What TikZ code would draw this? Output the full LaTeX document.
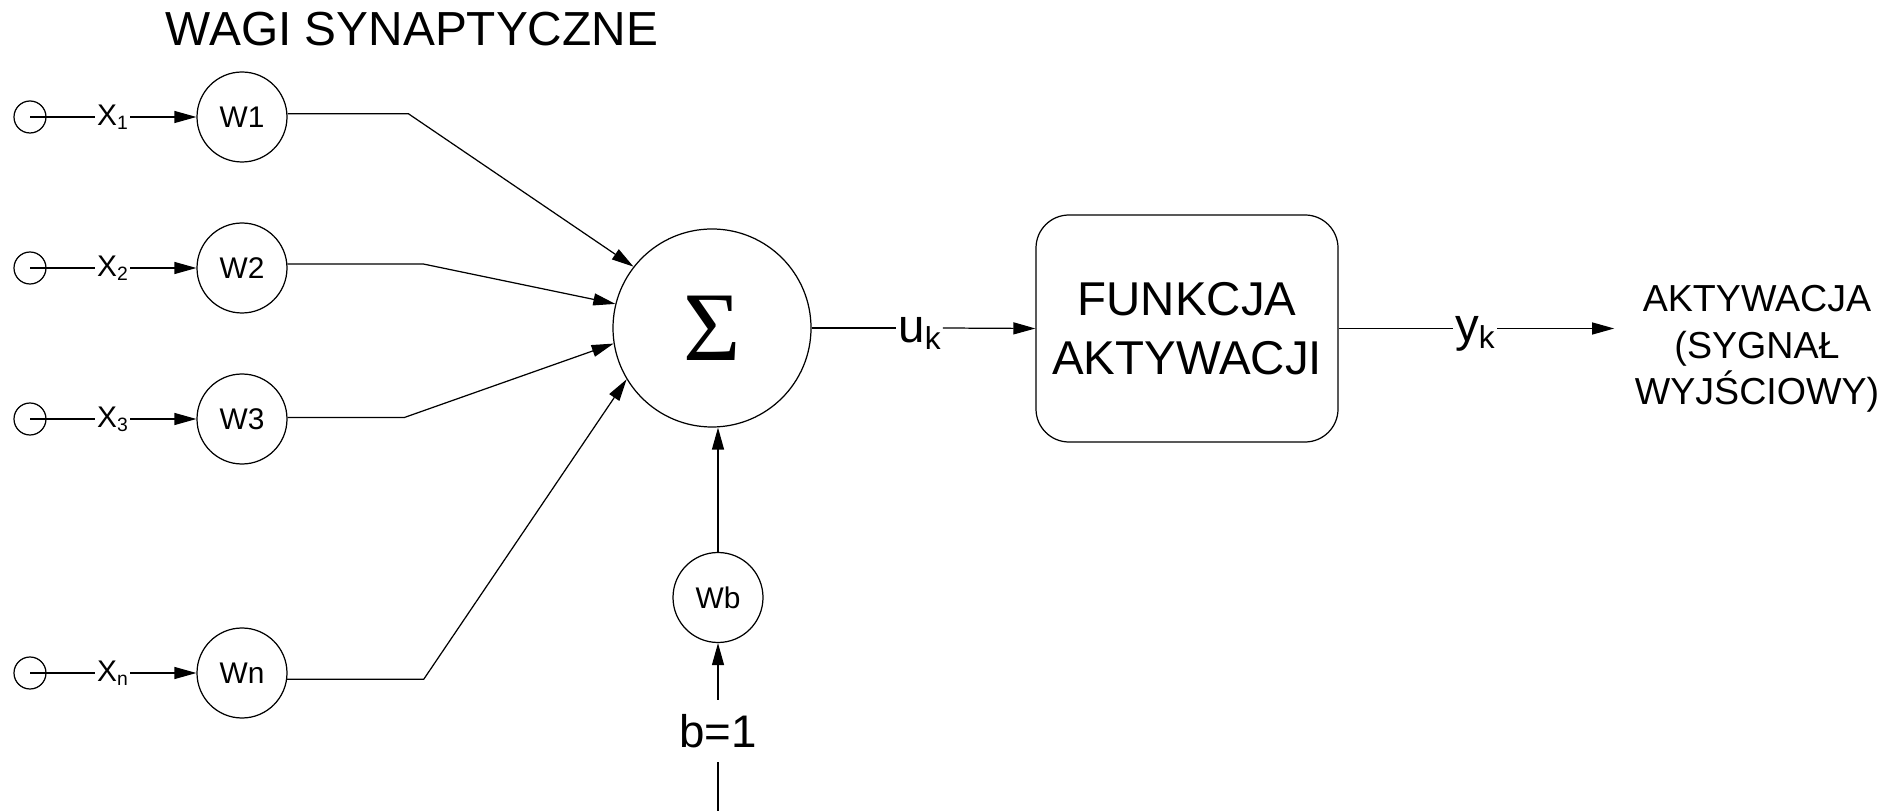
\documentclass[tikz,border=0pt]{standalone}
\usepackage{fontspec}
\setmainfont{Liberation Sans}
\newfontfamily\sigmafont{Liberation Serif}
\usetikzlibrary{arrows.meta,shapes}
\newcommand{\xidx}[1]{\raisebox{-1.2pt}{\fontsize{5.5}{6}\selectfont #1}}
\newcommand{\sigidx}[1]{\raisebox{-2pt}{\fontsize{9}{10}\selectfont #1}}

\begin{document}
\begin{tikzpicture}[line width=0.35pt,
    inp/.style={circle, draw, minimum size=0.32cm, inner sep=0pt},
    weight/.style={circle, draw, minimum size=0.9cm, inner sep=0pt, font=\fontsize{8.5}{10}\selectfont},
    lbl/.style={inner sep=0.5pt, font=\fontsize{8.5}{10}\selectfont},
    biglbl/.style={inner sep=0.5pt, font=\fontsize{13.5}{16}\selectfont},
    conn/.style={-{Triangle[length=2.2mm,width=1.2mm]}}]
    \useasboundingbox (0,0) rectangle (18.97,8.11);
    % title
    \node[anchor=base, font=\fontsize{13.6}{16}\selectfont] (title) at (4.12,7.65) {WAGI SYNAPTYCZNE};
    % inputs
    \node[inp] (in1) at (0.30,6.94) {};
    \node[inp] (in2) at (0.30,5.43) {};
    \node[inp] (in3) at (0.30,3.92) {};
    \node[inp] (inn) at (0.30,1.38) {};
    \node[lbl] (x1) at (1.125,6.94) {X\xidx{1}};
    \node[lbl] (x2) at (1.125,5.43) {X\xidx{2}};
    \node[lbl] (x3) at (1.125,3.92) {X\xidx{3}};
    \node[lbl] (xn) at (1.125,1.38) {X\xidx{n}};
    % weights
    \node[weight] (w1) at (2.42,6.94) {W1};
    \node[weight] (w2) at (2.42,5.43) {W2};
    \node[weight] (w3) at (2.42,3.92) {W3};
    \node[weight] (wn) at (2.42,1.38) {Wn};
    \draw (in1.center) -- (x1.west);
    \draw (in2.center) -- (x2.west);
    \draw (in3.center) -- (x3.west);
    \draw (inn.center) -- (xn.west);
    \draw[conn] (x1.east) -- (w1.west);
    \draw[conn] (x2.east) -- (w2.west);
    \draw[conn] (x3.east) -- (w3.west);
    \draw[conn] (xn.east) -- (wn.west);
    % summing node
    \node[circle, draw, minimum size=1.98cm, inner sep=0pt] (sum) at (7.12,4.83) {\fontsize{28}{30}\sigmafont Σ};
    \draw[conn] (w1.4) -- ++(1.21,0) -- (sum.142);
    \draw[conn] (w2.5) -- ++(1.36,0) -- (sum.166);
    \draw[conn] (w3.2) -- ++(1.17,0) -- (sum.189);
    \draw[conn] (wn.-8) -- ++(1.365,0) -- (sum.211);
    % bias
    \node[weight] (wb) at (7.18,2.135) {Wb};
    \node[inner sep=4pt, font=\fontsize{13}{15}\selectfont] (b) at (7.18,0.80) {b=1};
    \coordinate (bot) at (7.18,0);
    \draw (b.south) -- (bot);
    \draw[conn] (b.north) -- (wb.south);
    \draw[conn] (wb.north) -- (wb.north |- sum.south);
    % activation function
    \node[draw, rounded corners=0.33cm, minimum width=3.02cm, minimum height=2.27cm, align=center,
          font=\fontsize{13.5}{16.8}\selectfont] (fa) at (11.87,4.825) {FUNKCJA\\AKTYWACJI};
    \node[biglbl] (uk) at (9.195,4.775) {u\sigidx{k}};
    \draw (sum.east) -- (uk.west |- sum.east);
    \draw[conn] (uk.east |- sum.east) -- (fa.west);
    % output
    \node[biglbl] (yk) at (14.75,4.775) {y\sigidx{k}};
    \node[align=center, inner sep=0.2cm, font=\fontsize{10.7}{13.2}\selectfont] (act) at (17.57,4.62) {AKTYWACJA\\(SYGNAŁ\\WYJŚCIOWY)};
    \draw (fa.east) -- (yk.west |- fa.east);
    \draw[conn] (yk.east |- fa.east) -- (act.west |- fa.east);
\end{tikzpicture}
\end{document}
